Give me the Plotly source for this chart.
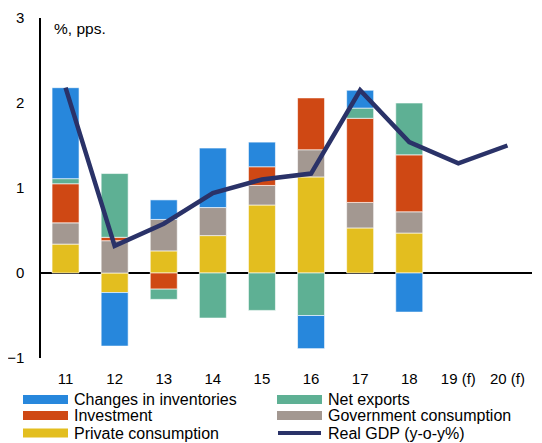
import plotly.graph_objects as go

categories = ["11", "12", "13", "14", "15", "16", "17", "18", "19 (f)", "20 (f)"]
private_consumption = [0.34, -0.23, 0.26, 0.44, 0.80, 1.13, 0.53, 0.47, None, None]
government_consumption = [0.25, 0.38, 0.37, 0.33, 0.23, 0.32, 0.30, 0.25, None, None]
investment = [0.46, 0.04, -0.19, None, 0.22, 0.61, 0.99, 0.67, None, None]
net_exports = [0.06, 0.75, -0.12, -0.53, -0.44, -0.50, 0.12, 0.61, None, None]
changes_in_inventories = [1.07, -0.63, 0.23, 0.70, 0.29, -0.39, 0.21, -0.46, None, None]
real_gdp = [2.18, 0.32, 0.58, 0.94, 1.10, 1.17, 2.15, 1.54, 1.29, 1.50]

legend_order = ["Changes in inventories", "Net exports", "Investment",
                "Government consumption", "Private consumption", "Real GDP (y-o-y%)"]

colors = {
    "Changes in inventories": "#2787DC",
    "Net exports": "#5EB094",
    "Investment": "#CF4814",
    "Government consumption": "#A39891",
    "Private consumption": "#E3BE1F",
    "Real GDP (y-o-y%)": "#2A3268",
}

FONT = "Liberation Sans, Arial, sans-serif"
OFF = 8  # page body margin
W, H = 542 - OFF, 443 - OFF
# plot area in screen pixels: x 41..532, y 18..358
ML, MR, MT, MB = 41 - OFF, 542 - 532, 18 - OFF, 443 - 358
PW, PH = W - ML - MR, H - MT - MB


def px_x(sx):
    return (sx - OFF - ML) / PW


def px_y(sy):
    return (H - MB - (sy - OFF)) / PH


fig = go.Figure()

stack = [
    ("Private consumption", private_consumption),
    ("Government consumption", government_consumption),
    ("Investment", investment),
    ("Net exports", net_exports),
    ("Changes in inventories", changes_in_inventories),
]
for name, vals in stack:
    fig.add_trace(go.Bar(
        x=categories, y=vals, name=name, showlegend=False,
        marker=dict(color=colors[name], line=dict(color="rgba(255,255,255,0.6)", width=1)),
        width=0.55,
    ))

fig.add_trace(go.Scatter(
    x=categories, y=real_gdp, mode="lines", name="Real GDP (y-o-y%)", showlegend=False,
    line=dict(color=colors["Real GDP (y-o-y%)"], width=4.5),
))

shapes = []
annotations = [dict(
    text="%, pps.", xref="paper", yref="paper", x=px_x(52), y=px_y(28),
    xanchor="left", yanchor="middle", showarrow=False,
    font=dict(family=FONT, size=15.5, color="black"),
)]
col_x = [23, 277]
row_y = [399.5, 415.5, 433]
for i, name in enumerate(legend_order):
    cx = col_x[i % 2]
    cy = row_y[i // 2]
    if name == "Real GDP (y-o-y%)":
        shapes.append(dict(type="line", xref="paper", yref="paper",
                           x0=px_x(cx + 1), x1=px_x(cx + 44), y0=px_y(cy), y1=px_y(cy),
                           line=dict(color=colors[name], width=4)))
    else:
        shapes.append(dict(type="rect", xref="paper", yref="paper",
                           x0=px_x(cx), x1=px_x(cx + 45), y0=px_y(cy - 4.5), y1=px_y(cy + 4.5),
                           fillcolor=colors[name], line=dict(width=0)))
    annotations.append(dict(
        text=name, xref="paper", yref="paper", x=px_x(cx + 49), y=px_y(cy),
        xanchor="left", yanchor="middle", showarrow=False,
        font=dict(family=FONT, size=16, color="black"),
    ))

fig.update_layout(
    width=W, height=H,
    margin=dict(l=ML, r=MR, t=MT, b=MB, autoexpand=False),
    barmode="relative",
    plot_bgcolor="white", paper_bgcolor="white",
    font=dict(family=FONT, size=15, color="black"),
    showlegend=False,
    shapes=shapes,
    annotations=annotations,
)

fig.update_xaxes(
    showgrid=False, showline=False, zeroline=False, ticks="",
    tickfont=dict(family=FONT, size=15), ticklabelstandoff=10,
)
fig.update_yaxes(
    range=[-1, 3], tickvals=[-1, 0, 1, 2, 3], showgrid=False,
    showline=True, linecolor="black", linewidth=1.5,
    zeroline=True, zerolinecolor="black", zerolinewidth=1.5,
    ticks="", tickfont=dict(family=FONT, size=15), ticklabelstandoff=12,
)

fig.write_html("out.html")
